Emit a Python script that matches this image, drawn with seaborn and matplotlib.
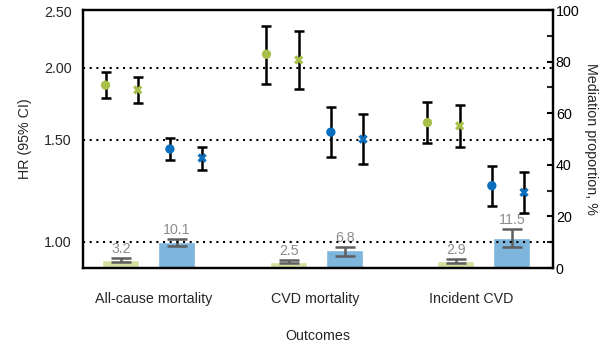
import numpy as np
import pandas as pd
import matplotlib
matplotlib.use("Agg")
import matplotlib.pyplot as plt
import seaborn as sns
from matplotlib.ticker import FixedLocator, FixedFormatter, MultipleLocator, NullLocator

sns.set_theme(style="white")
plt.rcParams['font.family'] = ['Liberation Sans', 'DejaVu Sans']

# ---- data ----
categories = ["All-cause mortality", "CVD mortality", "Incident CVD"]
series = ["green_circle", "green_x", "blue_circle", "blue_x"]
hr_green_circle = [1.867, 2.112, 1.608]
lo_green_circle = [1.773, 1.877, 1.482]
hi_green_circle = [1.966, 2.367, 1.749]
hr_green_x = [1.832, 2.065, 1.587]
lo_green_x = [1.738, 1.837, 1.458]
hi_green_x = [1.927, 2.320, 1.726]
hr_blue_circle = [1.447, 1.548, 1.250]
lo_blue_circle = [1.383, 1.399, 1.151]
hi_blue_circle = [1.515, 1.710, 1.354]
hr_blue_x = [1.396, 1.505, 1.217]
lo_blue_x = [1.332, 1.363, 1.121]
hi_blue_x = [1.458, 1.665, 1.318]

med_green = [3.2, 2.5, 2.9]
med_green_lo = [2.3, 1.9, 2.1]
med_green_hi = [3.9, 3.1, 3.6]
med_blue = [10.1, 6.8, 11.5]
med_blue_lo = [8.4, 4.7, 8.2]
med_blue_hi = [11.2, 8.2, 15.1]

hr_ticks = [1.00, 1.50, 2.00, 2.50]
ref_lines = [1.0, 1.5, 2.0]

# ---- style ----
GREEN = "#a8bf4a"
BLUE = "#0a6fbf"
GREEN_BAR = "#d6df9f"
BLUE_BAR = "#7db5dc"
ERR_GRAY = "#5e5e5e"
LBL_GRAY = "#8c8c8c"
FS = 10.3

fig = plt.figure(figsize=(6.03, 3.45), dpi=100)
ax = fig.add_axes([83/603, 1-268/345, (553-83)/603, (268-10)/345])
ax2 = ax.twinx()
ax.set_zorder(ax2.get_zorder() + 1)
ax.patch.set_visible(False)

x = np.arange(len(categories))
point_offsets = [-0.30, -0.10, 0.10, 0.30]
bar_groups = np.array([-0.031, 1.012, 2.05])
bar_off = 0.174
bar_w = 0.23

# bars on right axis
ax2.bar(bar_groups - bar_off, med_green, width=bar_w, color=GREEN_BAR, zorder=1)
ax2.bar(bar_groups + bar_off, med_blue, width=bar_w, color=BLUE_BAR, zorder=1)
for xs, v, lo, hi in [(bar_groups - bar_off, med_green, med_green_lo, med_green_hi),
                      (bar_groups + bar_off, med_blue, med_blue_lo, med_blue_hi)]:
    v = np.array(v); lo = np.array(lo); hi = np.array(hi)
    ax2.errorbar(xs, v, yerr=[v - lo, hi - v], fmt="none", ecolor=ERR_GRAY,
                 elinewidth=1.8, capsize=7, capthick=1.8, zorder=2)
    for xi, vi, hii in zip(xs, v, hi):
        ax2.annotate(f"{vi:.1f}", (xi, hii), xytext=(0, 1.5), textcoords="offset points",
                     ha="center", va="bottom", color=LBL_GRAY, fontsize=10.2)

ax2.set_ylim(0, 100)
ax2.yaxis.set_major_locator(MultipleLocator(20))
ax2.yaxis.set_minor_locator(MultipleLocator(10))
ax2.tick_params(axis="y", which="major", direction="in", length=4, width=1.5, pad=2,
                labelsize=FS, colors="black", right=True)
ax2.tick_params(axis="y", which="minor", direction="in", length=4, width=1.5, right=True)
ax2.set_ylabel("Mediation proportion, %", rotation=270, labelpad=13, fontsize=FS)

# HR axis
ax.set_yscale("log")
ax.set_ylim(0.9, 2.52)
ax.set_xlim(-0.44, 2.48)
for r in ref_lines:
    ax.axhline(r, color="black", lw=1.5, ls=(0, (1, 2.2)), zorder=1)

rows = []
data = {
    "green_circle": (hr_green_circle, lo_green_circle, hi_green_circle),
    "green_x": (hr_green_x, lo_green_x, hi_green_x),
    "blue_circle": (hr_blue_circle, lo_blue_circle, hi_blue_circle),
    "blue_x": (hr_blue_x, lo_blue_x, hi_blue_x),
}
for s, off in zip(series, point_offsets):
    hr, lo, hi = data[s]
    for i in range(len(categories)):
        rows.append({"series": s, "x": x[i] + off, "hr": hr[i], "lo": lo[i], "hi": hi[i]})
df = pd.DataFrame(rows)

ax.errorbar(df["x"], df["hr"], yerr=[df["hr"] - df["lo"], df["hi"] - df["hr"]],
            fmt="none", ecolor="black", elinewidth=1.8, capsize=3.5, capthick=1.8, zorder=3)

palette = {"green_circle": GREEN, "green_x": GREEN, "blue_circle": BLUE, "blue_x": BLUE}
markers = {"green_circle": "o", "green_x": "X", "blue_circle": "o", "blue_x": "X"}
sns.scatterplot(data=df, x="x", y="hr", hue="series", style="series", palette=palette,
                markers=markers, s=45, linewidth=0, legend=False, ax=ax, zorder=4)

ax.yaxis.set_major_locator(FixedLocator(hr_ticks))
ax.yaxis.set_major_formatter(FixedFormatter([f"{t:.2f}" for t in hr_ticks]))
ax.yaxis.set_minor_locator(NullLocator())
ax.tick_params(axis="y", which="both", length=0, pad=8, labelsize=FS, left=True)
ax.set_ylabel("HR (95% CI)", fontsize=FS, labelpad=9)

ax.set_xticks([0, 1, 1.97])
ax.set_xticklabels(categories, fontsize=FS)
ax.tick_params(axis="x", length=0, pad=17)
ax.set_xlabel("Outcomes", fontsize=FS, labelpad=17)

for a in (ax, ax2):
    for sp in a.spines.values():
        sp.set_visible(True)
        sp.set_color("black")
        sp.set_linewidth(1.6)

fig.savefig("out.png", dpi=100)
